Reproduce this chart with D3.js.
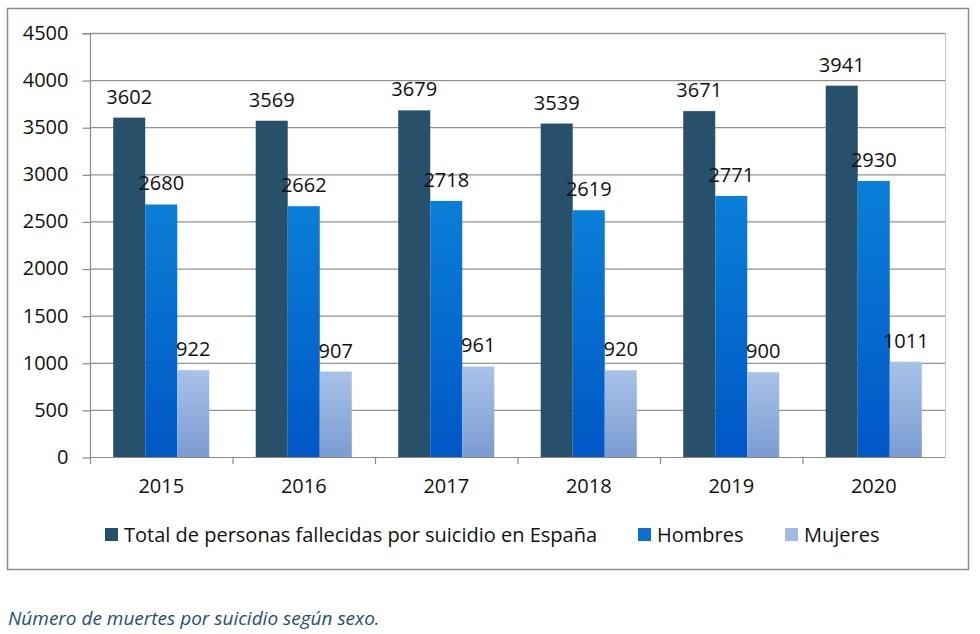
<!DOCTYPE html>
<html><head><meta charset="utf-8">
<script src="https://cdn.jsdelivr.net/npm/d3@7"></script>
<style>body{margin:0;background:#fff}svg{display:block}</style>
</head><body>
<svg id="c" width="980" height="634"></svg>
<script>
const years = ["2015","2016","2017","2018","2019","2020"];
const seriesNames = ["Total de personas fallecidas por suicidio en España","Hombres","Mujeres"];
const totalValues = [3602,3569,3679,3539,3671,3941];
const hombresValues = [2680,2662,2718,2619,2771,2930];
const mujeresValues = [922,907,961,920,900,1011];
const yTicks = [0,500,1000,1500,2000,2500,3000,3500,4000,4500];
const caption = "Número de muertes por suicidio según sexo.";

const seriesValues = [totalValues, hombresValues, mujeresValues];
const FONT = "'Open Sans', sans-serif";
const FS = 20;
const svg = d3.select("#c");

const defs = svg.append("defs");
const g1 = defs.append("linearGradient").attr("id","gH").attr("x1",0).attr("y1",0).attr("x2",0).attr("y2",1);
g1.append("stop").attr("offset","0%").attr("stop-color","#0a7fd8");
g1.append("stop").attr("offset","100%").attr("stop-color","#0057c6");
const g2 = defs.append("linearGradient").attr("id","gM").attr("x1",0).attr("y1",0).attr("x2",0).attr("y2",1);
g2.append("stop").attr("offset","0%").attr("stop-color","#a8c2e8");
g2.append("stop").attr("offset","100%").attr("stop-color","#7b9bd2");
const fills = ["#27506a","url(#gH)","url(#gM)"];
const legendFills = ["#27506a","#0a6fd2","#a3bbe3"];

// outer frame
svg.append("rect").attr("x",7.5).attr("y",8.5).attr("width",961).attr("height",561)
  .attr("fill","none").attr("stroke","#8c8c8c").attr("stroke-width",1.5);

const L=90, R=945, T=33, B=457;
const y = d3.scaleLinear().domain([0,4500]).range([B,T]);
const x = d3.scaleBand().domain(years).range([L,R]).paddingInner(0.326).paddingOuter(0.163);
const xs = d3.scaleBand().domain(d3.range(3)).range([0,x.bandwidth()]);

// gridlines
svg.append("g").selectAll("line").data(yTicks.filter(d=>d>0)).join("line")
  .attr("x1",L).attr("x2",R).attr("y1",d=>y(d)+0.5).attr("y2",d=>y(d)+0.5)
  .attr("stroke","#929292").attr("stroke-width",1.3);
// right border of plot
svg.append("line").attr("x1",R+0.5).attr("x2",R+0.5).attr("y1",T).attr("y2",B)
  .attr("stroke","#c8c8c8").attr("stroke-width",1);

// bars
years.forEach((yr,i)=>{
  seriesValues.forEach((vals,s)=>{
    svg.append("rect").attr("x",x(yr)+xs(s)).attr("y",y(vals[i]))
      .attr("width",xs.bandwidth()).attr("height",B-y(vals[i])).attr("fill",fills[s]);
    svg.append("text").attr("x",x(yr)+xs(s)+xs.bandwidth()/2).attr("y",y(vals[i])-14)
      .attr("text-anchor","middle").attr("font-family",FONT).attr("font-size",FS)
      .attr("fill","#111").text(vals[i]);
  });
});

// y axis
const ya = svg.append("g").attr("transform",`translate(${L+0.5},0)`)
  .call(d3.axisLeft(y).tickValues(yTicks).tickFormat(d3.format("d")).tickSize(8).tickPadding(14));
ya.select(".domain").attr("stroke","#8a8a8a").attr("stroke-width",1.2).attr("d",`M-8,${T+0.5}H0V${B+0.5}`);
ya.selectAll(".tick line").attr("stroke","#8a8a8a").attr("stroke-width",1.2).attr("transform","translate(0,0.5)");
ya.selectAll(".tick text").attr("font-family",FONT).attr("font-size",FS).attr("fill","#111");

// x axis
const xa = svg.append("g").attr("transform",`translate(0,${B+0.5})`)
  .call(d3.axisBottom(x).tickSize(0).tickPadding(21));
xa.select(".domain").attr("stroke","#8a8a8a").attr("stroke-width",1.2).attr("d",`M${L},0H${R}`);
xa.selectAll(".tick text").attr("font-family",FONT).attr("font-size",FS).attr("fill","#111");
const step = x.step();
svg.append("g").selectAll("line").data(d3.range(years.length)).join("line")
  .attr("x1",d=>L+0.5+d*step).attr("x2",d=>L+0.5+d*step).attr("y1",B).attr("y2",B+7)
  .attr("stroke","#8a8a8a").attr("stroke-width",1.2);

// legend
const legX = [105, 638, 785];
seriesNames.forEach((n,s)=>{
  svg.append("rect").attr("x",legX[s]).attr("y",528).attr("width",13).attr("height",13).attr("fill",legendFills[s]);
  svg.append("text").attr("x",legX[s]+19).attr("y",542).attr("font-family",FONT).attr("font-size",FS)
    .attr("fill","#111").text(n);
});

// caption
svg.append("text").attr("x",8).attr("y",625).attr("font-family",FONT).attr("font-size",19)
  .attr("font-style","italic").attr("fill","#1f4e79").text(caption);
</script>
</body></html>
